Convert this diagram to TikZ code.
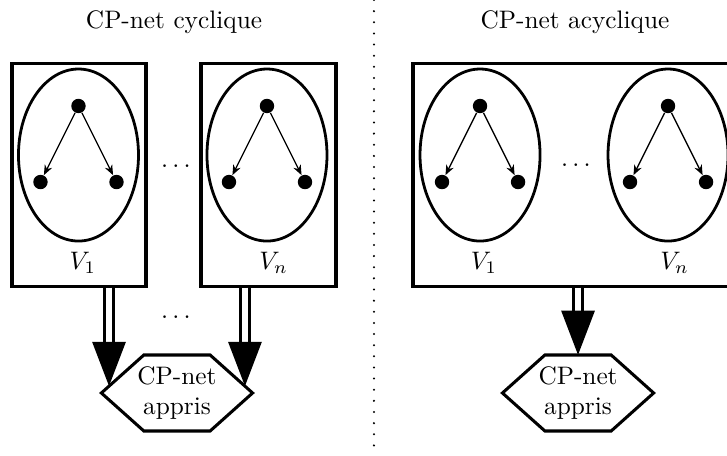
\documentclass[tikz,border=0pt]{standalone}
\usepackage{amsmath,amssymb}
\usepackage{tikz}
\usetikzlibrary{shapes,arrows.meta,positioning,calc}

\begin{document}
\begin{tikzpicture}[every node/.style={font=\normalsize},
  varbox/.style={rectangle, draw, line width=1.2pt, minimum height=3.097cm},
  vset/.style={ellipse, draw, line width=1.1pt, minimum width=1.667cm, minimum height=2.389cm},
  vdot/.style={circle, fill, inner sep=0pt, minimum size=0.2cm},
  dep/.style={-{Stealth[length=4pt, width=3.2pt]}, line width=0.5pt},
  learn/.style={line width=1.3pt, double, double distance=2.3pt, -{Triangle[length=17.5pt, width=13pt]}},
  hexline/.style={line width=1.2pt}]
\useasboundingbox (0,0) rectangle (10.097,-6.333);
\clip (0,0) rectangle (10.097,-6.333);

% titres
\node (tcyc) at (2.417,-0.306) {CP-net cyclique};
\node (tacyc) at (7.986,-0.306) {CP-net acyclique};
\draw[line width=0.9pt, line cap=round, dash pattern=on 0pt off 4.4pt] (5.194,0) -- (5.194,-6.333);

% cas cyclique
\node[varbox, minimum width=1.861cm] (cyc1) at (1.097,-2.424) {};
\node[varbox, minimum width=1.875cm] (cycn) at (3.729,-2.424) {};
\node[vset] (ea) at (1.090,-2.153) {};
\node[vset] (eb) at (3.708,-2.153) {};
\node (va) at (1.15,-3.653) {$V_1$};
\node (vb) at (3.80,-3.653) {$V_n$};
\node (dotsa) at (2.472,-2.306) {$\dots$};

% cas acyclique
\node[varbox, minimum width=4.472cm] (acyc) at (7.972,-2.424) {};
\node[vset] (ec) at (6.667,-2.153) {};
\node[vset] (ed) at (9.278,-2.153) {};
\node (vc) at (6.72,-3.653) {$V_1$};
\node (vd) at (9.37,-3.653) {$V_n$};
\node (dotsb) at (8.028,-2.292) {$\dots$};

% petits graphes dans les ellipses
\foreach \e in {ea,eb,ec,ed} {
  \node[vdot] (\e-top) at ($(\e)+(0,0.681)$) {};
  \node[vdot] (\e-l) at ($(\e)+(-0.528,-0.375)$) {};
  \node[vdot] (\e-r) at ($(\e)+(0.528,-0.375)$) {};
  \draw[dep] (\e-top) -- (\e-l);
  \draw[dep] (\e-top) -- (\e-r);
}

% CP-net appris (hexagones)
\node[align=center] (hexa) at (2.458,-5.458) {CP-net\\appris};
\node[align=center] (hexb) at (8.028,-5.458) {CP-net\\appris};
\foreach \h in {hexa,hexb}
  \draw[hexline] ($(\h)+(-1.05,0)$) -- ++(0.59,0.528) -- ++(0.92,0) -- ++(0.59,-0.528)
    -- ++(-0.59,-0.528) -- ++(-0.92,0) -- cycle;
\coordinate (ta) at ($(hexa)+(-0.944,0.095)$);
\coordinate (tb) at ($(hexa)+(0.944,0.095)$);
\coordinate (tc) at ($(hexb)+(0,0.528)$);
\node (dotsc) at (2.472,-4.403) {$\dots$};

\draw[learn] (ta |- cyc1.south) -- (ta);
\draw[learn] (tb |- cycn.south) -- (tb);
\draw[learn] (tc |- acyc.south) -- (tc);
\end{tikzpicture}
\end{document}
